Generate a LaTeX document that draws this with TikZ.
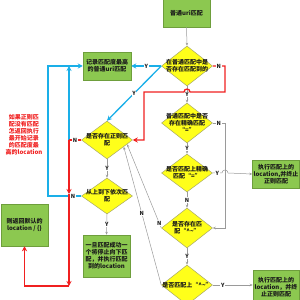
\documentclass[tikz,border=0pt]{standalone}
\usepackage{fontspec}
\setmainfont{Noto Sans CJK SC}
\usepackage{xcolor}
\usetikzlibrary{arrows.meta, shapes.geometric}
\definecolor{ink}{HTML}{1A1A1A}
\definecolor{leafG}{HTML}{8CC850}
\definecolor{leafD}{HTML}{6E9E3C}
\definecolor{lemon}{HTML}{FFFF1A}
\definecolor{lemonD}{HTML}{A8A868}
\definecolor{skyB}{HTML}{1AAFE8}
\definecolor{alarmR}{HTML}{F02020}
\definecolor{wireG}{HTML}{9A9A9A}
\tikzset{
  tiny/.style={font=\bfseries\fontsize{6}{7}\selectfont, text=ink},
  box/.style={tiny, draw=leafD, fill=leafG, line width=0.5pt, align=center, inner sep=1pt},
  dia/.style={diamond, draw=lemonD, fill=lemon, line width=0.5pt, inner sep=0pt, minimum width=51pt, minimum height=40pt},
  dlab/.style={tiny, align=center},
  yn/.style={font=\bfseries\fontsize{5.6}{6}\selectfont, text=ink, inner sep=0.6pt, fill=white},
  grayline/.style={draw=wireG, line width=0.5pt, -{Stealth[length=3pt,width=2.5pt]}},
  blueline/.style={draw=skyB, line width=1.3pt, -{Stealth[length=5pt,width=5pt]}},
  redline/.style={draw=alarmR, line width=1.3pt, -{Stealth[length=5pt,width=5pt]}}
}

\begin{document}
\begin{tikzpicture}[x=1pt,y=1pt]
\useasboundingbox (0,0) rectangle (300,300);

% right column
\node[box, minimum width=47pt, minimum height=28pt] (uri) at (186.5,287) {普通uri匹配};
\node[dia, label={[dlab]center:{在普通匹配中是\\否存在匹配到的}}] (d1) at (187,234) {};
\node[dia, label={[dlab]center:{普通匹配中是否\\存在精确匹配\\“=”}}] (d2) at (187,177) {};
\node[dia, minimum height=38pt, label={[dlab]center:{是否匹配上精确\\匹配“=”}}] (d6) at (187,127) {};
\node[dia, label={[dlab]center:{是否存在匹\\配“\^{}\textasciitilde”}}] (d5) at (187,72) {};
\node[dia, label={[dlab]center:{是否匹配上“\^{}\textasciitilde”}}] (d7) at (187,15) {};
\node[box, minimum width=46pt, minimum height=28pt] (r1) at (276,126) {执行匹配上的\\location,并终止\\正则匹配};
\node[box, minimum width=46pt, minimum height=34pt] (r2) at (276,13) {执行匹配上的\\location，并终\\止正则匹配};

% middle column
\node[box, minimum width=48pt, minimum height=28pt] (b1) at (107,234) {记录匹配度最高\\的普通uri匹配};
\node[dia, minimum height=38pt, label={[dlab]center:{是否存在正则匹\\配}}] (d3) at (107,160) {};
\node[dia, minimum height=36pt, label={[dlab]center:{从上到下依次匹\\配}}] (d4) at (107,104) {};
\node[box, minimum width=47pt, minimum height=42pt] (b3) at (106.5,44) {一旦匹配成功一\\个将停止向下匹\\配，并执行匹配\\到的location};

% left column
\node[box, minimum width=47pt, minimum height=42pt] (def) at (24.5,75) {则返回默认的\\location / \{\}};
\node[tiny, text=alarmR, align=center] (note) at (24,165) {如果正则匹\\配没有匹配\\怎返回执行\\最开始记录\\的匹配度最\\高的location};

\coordinate (j) at (69,160);
\coordinate (rm) at (69,106);
\coordinate (rb) at (69,14);

% gray connectors
\draw[grayline] (uri.south) -- (d1.north);
\draw[grayline] (d1.south) -- node[yn] (y1) {Y} (d2.north);
\draw[grayline] (d2.south) -- node[yn] (y4) {Y} (d6.north);
\draw[grayline] (d6.south) -- node[yn] (n6) {N} (d5.north);
\draw[grayline] (d5.south) -- node[yn] (y6) {Y} (d7.north);
\draw[grayline] (d2.east) -- node[yn] (n2) {N} (225,177) -- (225,72) -- (d5.east);
\draw[grayline] (d6.east) -- node[yn] (y5) {Y} (222,127) arc (180:0:3) -- (r1.west);
\draw[grayline] (d7.east) -- node[yn, pos=0.25] (y7) {Y} (r2.west |- d7.east);
\draw[grayline] (d5.west) -- node[yn, pos=0.06] (n5) {N} (d3.-12);
\draw[grayline] (d7.west) -- node[yn, pos=0.52] (n7) {N} (d3.-22);
\draw[grayline] (d3.south) -- node[yn] (y8) {Y} (d4.north);
\draw[grayline] (d4.south) -- node[yn] (y9) {Y} (b3.north);

% blue connectors
\draw[blueline] (d1.west) -- node[yn] (y2) {Y} (b1.east);
\draw[blueline] (d1.west) -- node[yn] (y3) {Y} (d3.north);
\draw[blueline] (j) -- (69,234);
\draw[blueline] (d4.west) -- node[yn, pos=0.25] (n4) {N} (48,104) -- (48,234) -- (b1.west);

% red connectors
\draw[redline] (d1.east) -- node[yn] (n1) {N} (225,234) -- (225,208) -- (190,208) arc (0:180:3) -- (144,208) -- (144,160) -- (d3.east);
\draw[redline, -] (d3.west) -- node[yn] (n3) {N} (j);
\draw[redline] (j) -- (rm);
\draw[redline] (rm) -- (rb);
\draw[redline] (rb) -| (def.south);

\end{tikzpicture}
\end{document}
